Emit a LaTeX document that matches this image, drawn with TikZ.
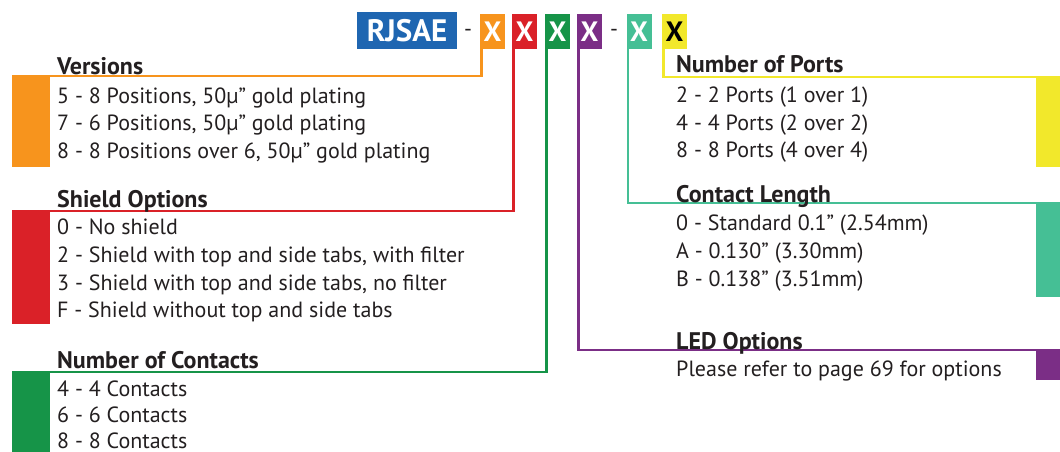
\documentclass[tikz,border=0pt]{standalone}
\usepackage{fontspec}
\setmainfont{PT Sans}
\definecolor{cBlue}{HTML}{1F66B1}
\definecolor{cOrange}{HTML}{F7941D}
\definecolor{cRed}{HTML}{DA2128}
\definecolor{cGreen}{HTML}{169448}
\definecolor{cPurple}{HTML}{7B2E86}
\definecolor{cTeal}{HTML}{45BF95}
\definecolor{cYellow}{HTML}{F2E82B}
\definecolor{cText}{HTML}{231F20}
\tikzset{
  codebox/.style={fill=#1, inner sep=0pt, minimum width=25pt, minimum height=35pt, text=white, font=\fontsize{28}{32}\selectfont\bfseries},
  bar/.style={fill=#1, draw=none, inner sep=0pt, anchor=north west},
  conn/.style={draw=#1, line width=2.5pt},
  head/.style={anchor=base west, inner sep=0pt, text=cText, font=\fontsize{24}{26}\selectfont\bfseries},
  item/.style={anchor=base west, inner sep=0pt, text=cText, font=\fontsize{22}{24}\selectfont},
}
\begin{document}
\begin{tikzpicture}[x=1pt,y=-1pt]
\useasboundingbox (0,0) rectangle (1060,451);
% top code
\node[codebox=cBlue, minimum width=100pt, minimum height=37pt, font=\fontsize{31}{34}\selectfont\bfseries] (rj) at (407,30.5) {RJSAE};
\node[item, anchor=center] (d1) at (468,33) {-};
\node[codebox=cOrange] (xo) at (492.5,31.5) {X};
\node[codebox=cRed] (xr) at (524.5,31.5) {X};
\node[codebox=cGreen] (xg) at (557.5,31.5) {X};
\node[codebox=cPurple] (xp) at (589.5,31.5) {X};
\node[item, anchor=center] (d2) at (614,33) {-};
\node[codebox=cTeal] (xt) at (639,31.5) {X};
\node[codebox=cYellow, text=black] (xy) at (674.5,31.5) {X};
% colour bars
\node[bar=cOrange, minimum width=38pt, minimum height=91pt] (bo) at (12,76) {};
\node[bar=cRed, minimum width=38pt, minimum height=113pt] (br) at (12,211) {};
\node[bar=cGreen, minimum width=38pt, minimum height=80pt] (bg) at (12,372) {};
\node[bar=cYellow, minimum width=24pt, minimum height=90pt] (by) at (1036,77) {};
\node[bar=cTeal, minimum width=24pt, minimum height=94pt] (bt) at (1036,203) {};
\node[bar=cPurple, minimum width=24pt, minimum height=30pt] (bp) at (1036,350) {};
% connectors
\draw[conn=cOrange] ([xshift=1.5pt]xo.south west) |- (bo.north west);
\draw[conn=cRed] ([xshift=1.5pt]xr.south west) |- (br.north west);
\draw[conn=cGreen] ([xshift=1.5pt]xg.south west) |- (bg.north west);
\draw[conn=cPurple] ([xshift=1.5pt]xp.south west) |- (bp.north east);
\draw[conn=cTeal] ([xshift=1.5pt]xt.south west) |- (bt.north east);
\draw[conn=cYellow] ([xshift=1.5pt]xy.south west) |- (by.north east);
% left texts
\node[head] (hv) at (57,74) {Versions};
\node[item] (v1) at (57,103) {5 - 8 Positions, 50µ” gold plating};
\node[item] (v2) at (57,130.5) {7 - 6 Positions, 50µ” gold plating};
\node[item] (v3) at (57,158) {8 - 8 Positions over 6, 50µ” gold plating};
\node[head] (hs) at (57,207) {Shield Options};
\node[item] (s1) at (57,234) {0 - No shield};
\node[item] (s2) at (57,262) {2 - Shield with top and side tabs, with filter};
\node[item] (s3) at (57,290) {3 - Shield with top and side tabs, no filter};
\node[item] (s4) at (57,317.5) {F - Shield without top and side tabs};
\node[head] (hc) at (57,368) {Number of Contacts};
\node[item] (c1) at (57,396) {4 - 4 Contacts};
\node[item] (c2) at (57,422.5) {6 - 6 Contacts};
\node[item] (c3) at (57,448) {8 - 8 Contacts};
% right texts
\node[head] (hp) at (676,72) {Number of Ports};
\node[item] (p1) at (676,102) {2 - 2 Ports (1 over 1)};
\node[item] (p2) at (676,130) {4 - 4 Ports (2 over 2)};
\node[item] (p3) at (676,157) {8 - 8 Ports (4 over 4)};
\node[head] (hl) at (676,202) {Contact Length};
\node[item] (l1) at (676,230) {0 - Standard 0.1” (2.54mm)};
\node[item] (l2) at (676,258.5) {A - 0.130” (3.30mm)};
\node[item] (l3) at (676,286) {B - 0.138” (3.51mm)};
\node[head] (he) at (676,349) {LED Options};
\node[item] (e1) at (676,376) {Please refer to page 69 for options};
\end{tikzpicture}
\end{document}
